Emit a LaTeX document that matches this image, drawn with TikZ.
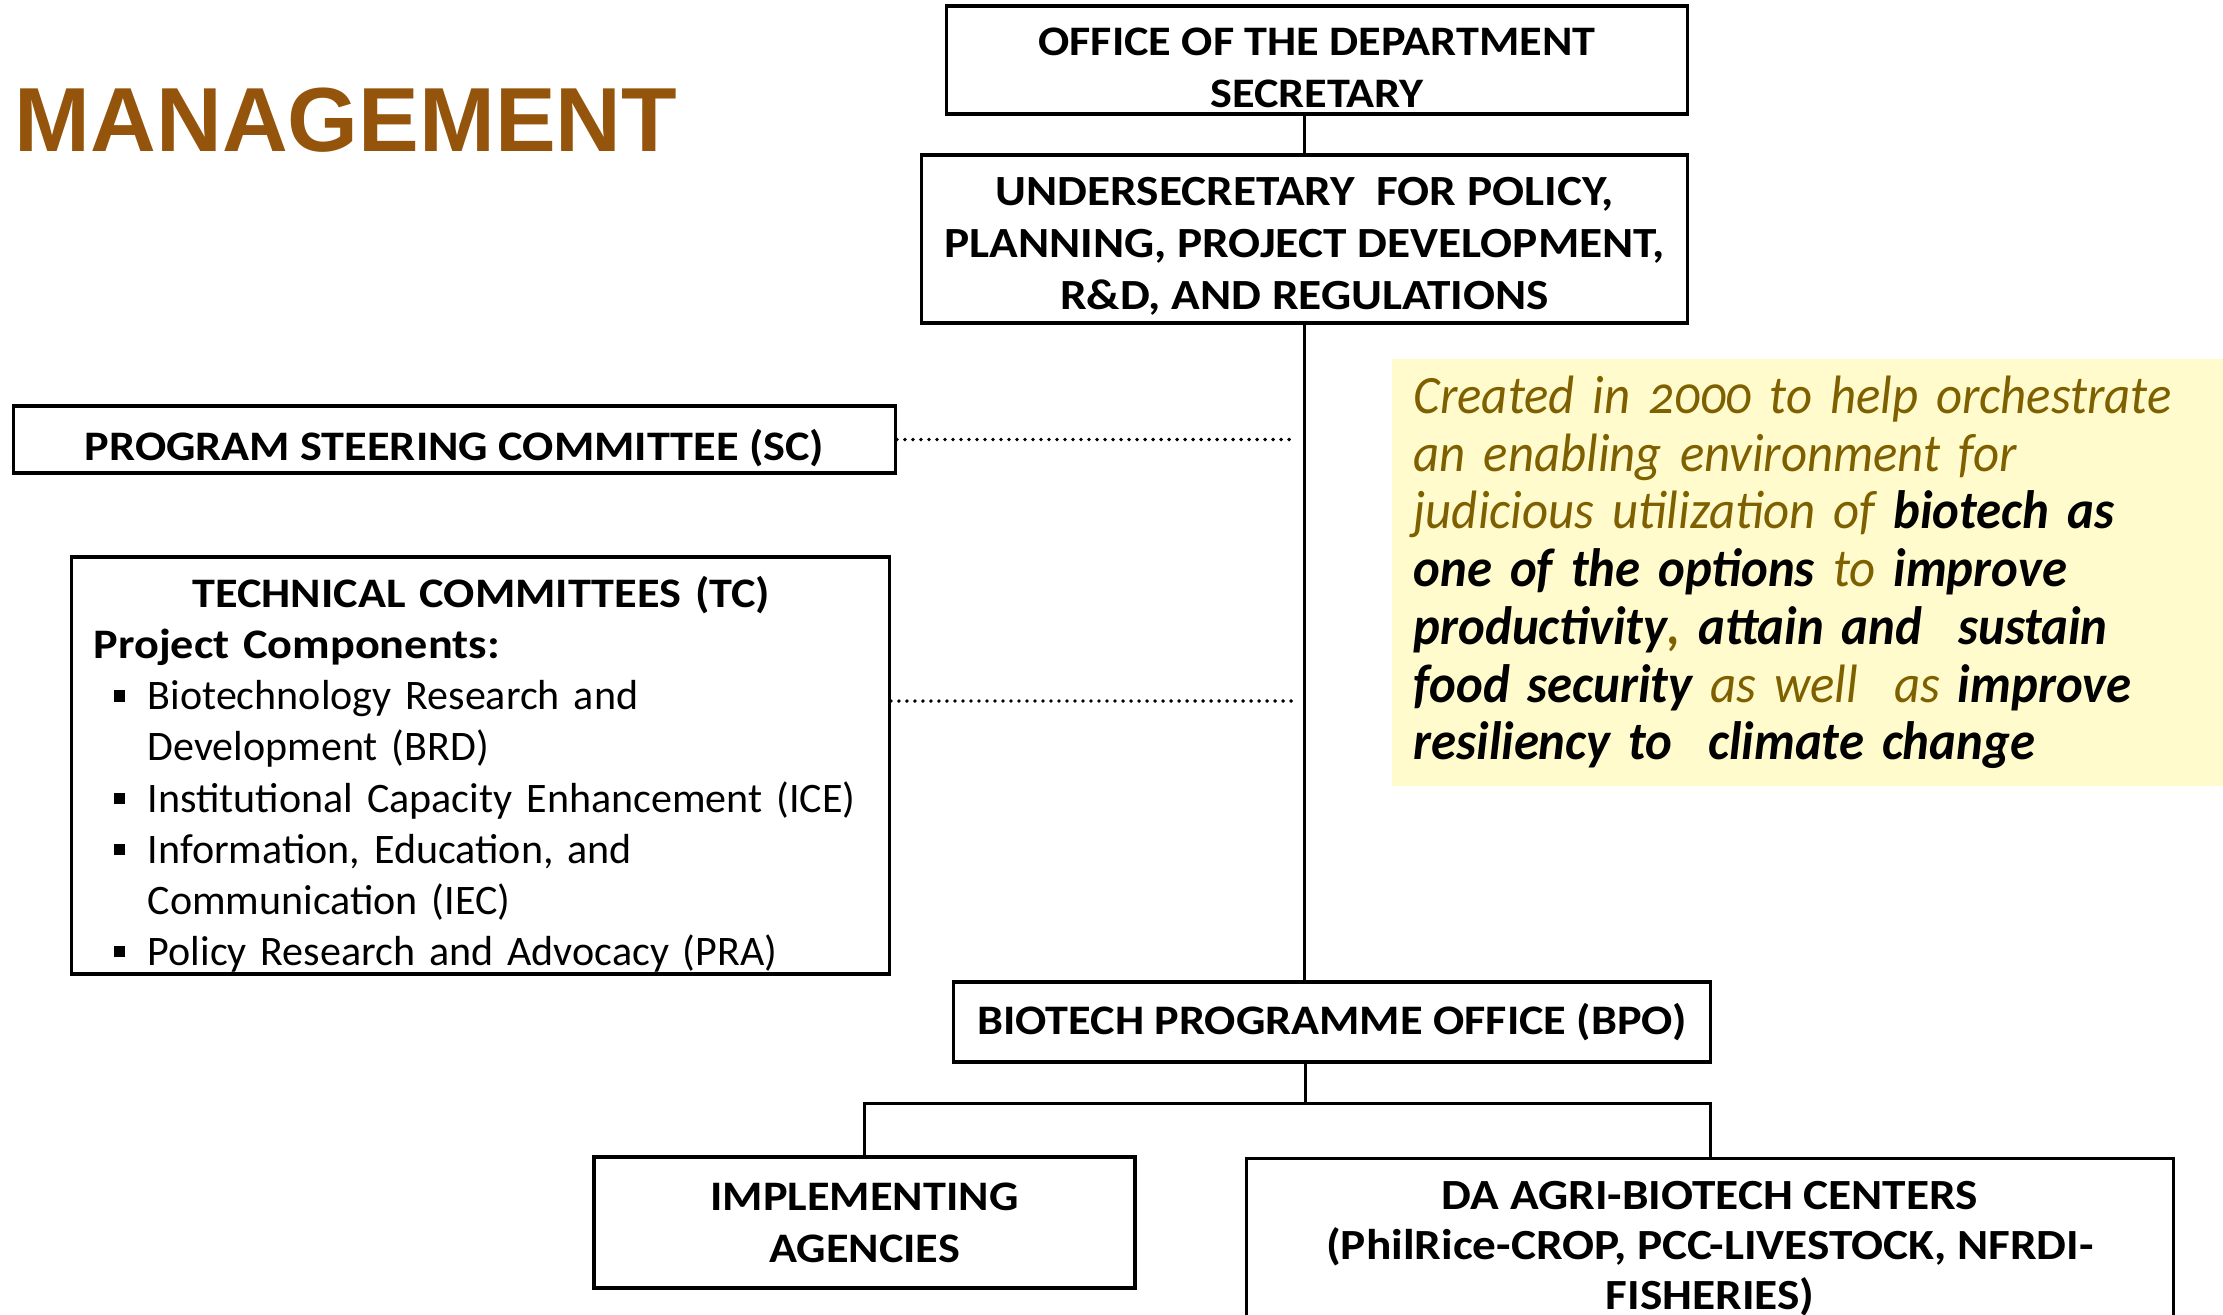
\documentclass[tikz,border=0pt]{standalone}
\usepackage{fontspec}
\setmainfont{Carlito}[BoldFeatures={FakeStretch=1.1}]
\newfontfamily\notefont{Carlito}[Numbers=OldStyle, FakeStretch=0.94]
\newfontfamily\headfont{Liberation Sans}
\definecolor{mgmt}{RGB}{148,84,12}
\definecolor{notefill}{RGB}{255,251,204}
\definecolor{notetxt}{RGB}{127,96,0}
\newcommand{\tcbullet}{\makebox[0.54cm][l]{\hspace*{0.2cm}\rule[0.08cm]{0.115cm}{0.115cm}}}
\newcommand{\tcindent}{\hspace*{0.54cm}}
\newcommand{\lowstrut}[1]{\rule{0pt}{#1}}
\hyphenpenalty=10000
\begin{document}
\begin{tikzpicture}[x=0.01cm,y=-0.01cm]

      \tikzset{orgbox/.style={draw, line width=0.95pt, align=center, inner sep=0pt, font=\bfseries\fontsize{0.42cm}{0.52cm}\selectfont},
               link/.style={line width=0.85pt},
               dotlink/.style={line width=1.1pt, line cap=round, dash pattern=on 0pt off 0.08cm, shorten >=0.08cm}}
      \clip (0,0) rectangle (2223,1314);
%% Title
      	\node[anchor=base west, inner sep=0pt, text=mgmt, font=\headfont\bfseries\fontsize{0.91cm}{1cm}\selectfont] (title) at (14,151) {MANAGEMENT};
%% Boxes
      	\node[orgbox, minimum width=7.4cm, minimum height=1.08cm] (off) at (1317,60) {\lowstrut{0.43cm}OFFICE OF THE DEPARTMENT\\SECRETARY};
      	\node[orgbox, minimum width=7.65cm, minimum height=1.68cm, font=\bfseries\fontsize{0.43cm}{0.52cm}\selectfont] (usec) at (1304.5,239) {\lowstrut{0.42cm}UNDERSECRETARY\ \ FOR POLICY,\\PLANNING, PROJECT DEVELOPMENT,\\R\&D, AND REGULATIONS};
      	\node[orgbox, minimum width=8.81cm, minimum height=0.67cm] (sc) at (454.5,439.5) {\lowstrut{0.48cm}PROGRAM STEERING COMMITTEE (SC)};
      	\node[orgbox, minimum width=8.17cm, minimum height=4.17cm] (tc) at (480.5,765.5) {};
      	\node[anchor=north west, inner sep=0pt, text width=7.75cm, align=left, font=\fontsize{0.42cm}{0.51cm}\selectfont] (tclist) at (93,576) {%
      		\makebox[\linewidth]{\bfseries TECHNICAL COMMITTEES (TC)}\\
      		\textbf{Project Components:}\\
      		\tcbullet Biotechnology Research and\\
      		\tcindent Development (BRD)\\
      		\tcbullet Institutional Capacity Enhancement (ICE)\\
      		\tcbullet Information, Education, and\\
      		\tcindent Communication (IEC)\\
      		\tcbullet Policy Research and Advocacy (PRA)};
      	\node[orgbox, minimum width=7.56cm, minimum height=0.8cm] (bpo) at (1332,1022) {BIOTECH PROGRAMME OFFICE (BPO)};
      	\node[orgbox, minimum width=5.41cm, minimum height=1.31cm] (impl) at (864.5,1222.5) {IMPLEMENTING\\AGENCIES};
      	\node[orgbox, anchor=north, minimum width=9.26cm, minimum height=1.8cm, font=\bfseries\fontsize{0.43cm}{0.5cm}\selectfont] (dacen) at (1710,1157) {DA AGRI-BIOTECH CENTERS\\(PhilRice-CROP, PCC-LIVESTOCK, NFRDI-\\FISHERIES)};
%% Note
      	\node[anchor=north west, fill=notefill, minimum width=8.32cm, minimum height=4.27cm, inner xsep=0.22cm, inner ysep=0pt, text width=8cm, align=left, font=\notefont\itshape\fontsize{0.54cm}{0.577cm}\selectfont] (note) at (1391,358) {%
      		{\color{notetxt}Created in 2000 to help orchestrate\\
      		an enabling environment for\\
      		judicious utilization of} \textbf{biotech as}\\
      		\textbf{one of the options} {\color{notetxt}to} \textbf{improve}\\
      		\textbf{productivity}{\color{notetxt}\textbf{,}} \textbf{attain and\ \ sustain}\\
      		\textbf{food security} {\color{notetxt}as well\ \ as} \textbf{improve}\\
      		\textbf{resiliency to\ \ climate change}};
%Edges
      	\coordinate (bar) at (1305,1103);
		\draw[link] (usec.north |- off.south) -- (usec.north);
		\draw[link] (usec.south) -- (usec.south |- bpo.north);
		\draw[dotlink] (sc.east) -- (sc.east -| usec.south);
		\draw[dotlink] (tc.east |- 0,701) -- (usec.south |- 0,701);
		\draw[link] (bar |- bpo.south) -- (bar);
		\draw[link] (impl.north) -- (impl.north |- bar) -- (dacen.north |- bar) -- (dacen.north);

	\end{tikzpicture}
\end{document}
